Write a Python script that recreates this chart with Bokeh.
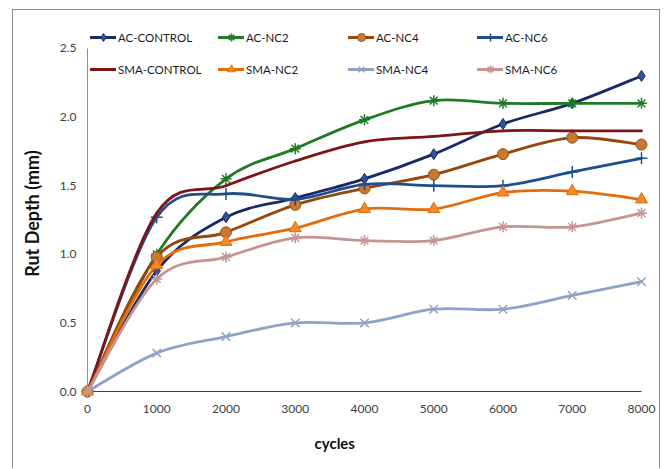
import numpy as np
from bokeh.plotting import figure
from bokeh.models import Legend, LegendItem, FixedTicker, Title
from bokeh.embed import file_html
from bokeh.resources import INLINE

# ---------------- data ----------------
cycles = [0, 1000, 2000, 3000, 4000, 5000, 6000, 7000, 8000]

series_names = ["AC-CONTROL", "AC-NC2", "AC-NC4", "AC-NC6",
                "SMA-CONTROL", "SMA-NC2", "SMA-NC4", "SMA-NC6"]

ac_control = [0, 0.88, 1.27, 1.41, 1.55, 1.73, 1.95, 2.10, 2.30]
ac_nc2 = [0, 1.00, 1.55, 1.77, 1.98, 2.12, 2.10, 2.10, 2.10]
ac_nc4 = [0, 0.98, 1.16, 1.36, 1.48, 1.58, 1.73, 1.85, 1.80]
ac_nc6 = [0, 1.27, 1.44, 1.40, 1.51, 1.50, 1.50, 1.60, 1.70]
sma_control = [0, 1.30, 1.50, 1.68, 1.82, 1.86, 1.90, 1.90, 1.90]
sma_nc2 = [0, 0.92, 1.09, 1.19, 1.33, 1.33, 1.45, 1.46, 1.40]
sma_nc4 = [0, 0.28, 0.40, 0.50, 0.50, 0.60, 0.60, 0.70, 0.80]
sma_nc6 = [0, 0.82, 0.98, 1.12, 1.10, 1.10, 1.20, 1.20, 1.30]

x_ticks = [0, 1000, 2000, 3000, 4000, 5000, 6000, 7000, 8000]
y_ticks = [0.0, 0.5, 1.0, 1.5, 2.0, 2.5]
y_tick_labels = ["0.0", "0.5", "1.0", "1.5", "2.0", "2.5"]

x_title = "cycles"
y_title = "Rut Depth (mm)"

# ---------------- styles ----------------
styles = {
    "AC-CONTROL":  dict(line="#1b2a66", marker="diamond", fill="#2f5597", edge="#1b2a66", size=11),
    "AC-NC2":      dict(line="#1f7a24", marker="asterisk", fill="#1f7a24", edge="#1f7a24", size=11),
    "AC-NC4":      dict(line="#95480b", marker="circle", fill="#c8782f", edge="#9a5211", size=11),
    "AC-NC6":      dict(line="#1f4e8c", marker="cross", fill="#1f4e8c", edge="#1f4e8c", size=12),
    "SMA-CONTROL": dict(line="#7d1518", marker=None, fill=None, edge=None, size=0),
    "SMA-NC2":     dict(line="#e46c0a", marker="triangle", fill="#f08a2e", edge="#e46c0a", size=12),
    "SMA-NC4":     dict(line="#8ea3c6", marker="x", fill="#8ea3c6", edge="#8ea3c6", size=12),
    "SMA-NC6":     dict(line="#c49593", marker="asterisk", fill="#c49593", edge="#c49593", size=11),
}
values = [ac_control, ac_nc2, ac_nc4, ac_nc6, sma_control, sma_nc2, sma_nc4, sma_nc6]

FONT = "Lato"

p = figure(width=648, height=459, output_backend="svg", toolbar_location=None,
           x_range=(-115.5, 8115.5), y_range=(-0.0583, 2.653),
           min_border_left=66, min_border_right=12, min_border_top=17, min_border_bottom=70)
p.styles = {"margin-left": "12px", "margin-top": "9px",
            "border-left": "1px solid #8c8c8c",
            "border-top": "1px solid #8c8c8c",
            "border-right": "1px solid #8c8c8c"}

p.outline_line_color = None
p.xgrid.grid_line_color = None
p.ygrid.grid_line_color = None

# axes (lines drawn separately at the data origin)
p.xaxis.ticker = FixedTicker(ticks=x_ticks)
p.yaxis.ticker = FixedTicker(ticks=y_ticks)
p.yaxis.major_label_overrides = {t: l for t, l in zip(y_ticks, y_tick_labels)}
for ax in (p.xaxis, p.yaxis):
    ax.axis_line_color = None
    ax.major_tick_line_color = None
    ax.minor_tick_line_color = None
    ax.major_tick_out = 0
    ax.major_tick_in = 0
    ax.major_label_text_font = FONT
    ax.major_label_text_font_size = "12px"
    ax.major_label_text_color = "#404040"
p.xaxis.major_label_standoff = 5
p.yaxis.major_label_standoff = 3

p.yaxis.axis_label = y_title
p.yaxis.axis_label_text_font = FONT
p.yaxis.axis_label_text_font_style = "bold"
p.yaxis.axis_label_text_color = "#111111"
p.yaxis.axis_label_text_font_size = "18px"
p.yaxis.axis_label_standoff = 14

# x-axis title below the tick labels, left of the frame centre like the original
p.add_layout(Title(text=x_title, align="left", offset=235, standoff=32,
                   text_font=FONT, text_font_style="bold", text_font_size="15px",
                   text_color="#111111"), "below")

# axis lines at the origin
p.segment(x0=[x_ticks[0]], y0=[0], x1=[x_ticks[-1]], y1=[0], line_color="#404040", line_width=1)
p.segment(x0=[0], y0=[y_ticks[0]], x1=[0], y1=[y_ticks[-1]], line_color="#8c8c8c", line_width=1)


def bezier_controls(xs, ys):
    x = np.asarray(xs, float)
    y = np.asarray(ys, float)
    n = len(x)
    xp = np.concatenate([[x[0]], x, [x[-1]]])
    yp = np.concatenate([[y[0]], y, [y[-1]]])
    cx0 = x[:-1] + (xp[2:n + 1] - xp[0:n - 1]) / 6.0
    cy0 = y[:-1] + (yp[2:n + 1] - yp[0:n - 1]) / 6.0
    cx1 = x[1:] - (xp[3:n + 2] - xp[1:n]) / 6.0
    cy1 = y[1:] - (yp[3:n + 2] - yp[1:n]) / 6.0
    return dict(x0=x[:-1], y0=y[:-1], x1=x[1:], y1=y[1:], cx0=cx0, cy0=cy0, cx1=cx1, cy1=cy1)


items = {}
for name, vals in zip(series_names, values):
    st = styles[name]
    segs = bezier_controls(cycles, vals)
    rends = []
    bz = p.bezier(line_color=st["line"], line_width=2.8, line_cap="round", **segs)
    rends.append(bz)
    if st["marker"] is not None:
        sc = p.scatter(cycles, vals, marker=st["marker"], size=st["size"],
                       fill_color=st["fill"], line_color=st["edge"],
                       line_width=1.5 if st["marker"] in ("asterisk", "cross", "x") else 1.0)
        rends.append(sc)
    items[name] = rends

columns = [("AC-CONTROL", "SMA-CONTROL", 11), ("AC-NC2", "SMA-NC2", 139),
           ("AC-NC4", "SMA-NC4", 269), ("AC-NC6", "SMA-NC6", 398)]
for top, bottom, vx in columns:
    lg = Legend(items=[LegendItem(label=top, renderers=items[top]),
                       LegendItem(label=bottom, renderers=items[bottom])],
                location=(vx, 320), orientation="vertical",
                glyph_width=26, glyph_height=20, label_height=20, label_standoff=2,
                spacing=12, padding=0, margin=0,
                border_line_color=None, background_fill_alpha=0,
                label_text_font=FONT, label_text_font_size="11.5px",
                label_text_color="#1a1a1a")
    p.add_layout(lg, "center")

open("out.html", "w").write(file_html(p, INLINE))
